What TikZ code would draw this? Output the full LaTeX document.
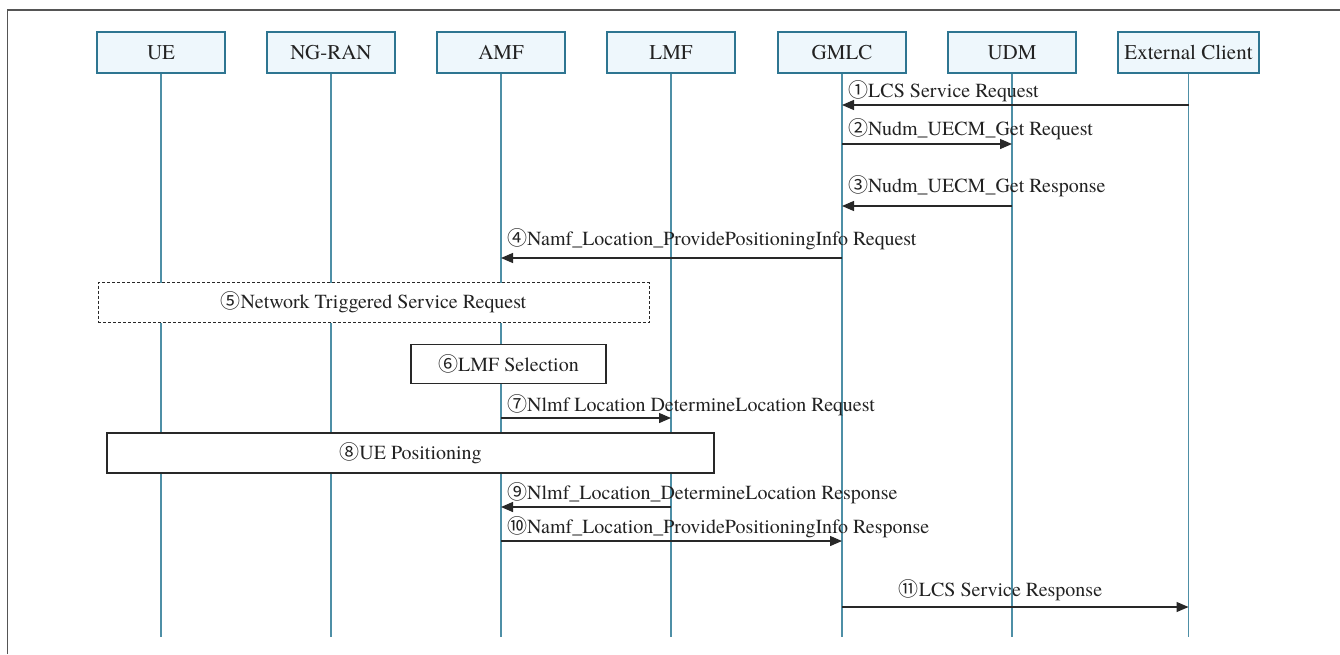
\documentclass[tikz,border=0pt]{standalone}
\usepackage{fontspec}
\setmainfont{texgyretermes-regular.otf}
\newfontfamily\cjk{Noto Sans CJK SC}
\newcommand\cn[1]{{\cjk #1}}
\usetikzlibrary{arrows.meta}
\definecolor{hdrfill}{RGB}{238,247,252}
\definecolor{hdrline}{RGB}{46,117,145}
\definecolor{lifecol}{RGB}{78,143,166}
\definecolor{msgcol}{RGB}{40,40,40}
\definecolor{txt}{RGB}{34,34,34}
\definecolor{framecol}{RGB}{85,85,85}
\tikzset{
  hdr/.style={draw=hdrline, fill=hdrfill, line width=1.1pt, minimum width=128pt,
    minimum height=41pt, inner sep=0pt, text=txt, font=\fontsize{21}{25}\selectfont},
  life/.style={draw=lifecol, line width=1.1pt},
  msg/.style={draw=msgcol, line width=1.3pt, -{Triangle[length=12pt,width=10pt]}},
  lbl/.style={anchor=base west, xshift=6pt, inner sep=0pt, text=txt,
    font=\fontsize{20}{24}\selectfont},
  procbox/.style={draw=msgcol, fill=white, line width=1.1pt, inner sep=0pt, text=txt,
    font=\fontsize{20}{24}\selectfont},
  optbox/.style={procbox, dash pattern=on 3pt off 2pt, line width=1pt}
}
\begin{document}
\begin{tikzpicture}[x=1pt,y=-1pt]
\useasboundingbox (0,0) rectangle (1340,654);
\fill[white] (0,0) rectangle (1340,654);
% frame
\draw[framecol, line width=1.6pt] (7.5,654) -- (7.5,10) -- (1340,10);

% participants
\node[hdr] (ue)    at (161,52.5)  {UE};
\node[hdr] (ngran) at (331,52.5)  {NG-RAN};
\node[hdr] (amf)   at (501,52.5)  {AMF};
\node[hdr] (lmf)   at (671,52.5)  {LMF};
\node[hdr] (gmlc)  at (842,52.5)  {GMLC};
\node[hdr] (udm)   at (1012,52.5) {UDM};
\node[hdr, minimum width=141pt] (ext) at (1188.5,52.5) {External Client};

% lifelines
\coordinate (bot) at (0,637);
\foreach \p in {ue,ngran,amf,lmf,gmlc,udm,ext}
  \draw[life] (\p.south) -- (\p.south |- bot);

% 1-4
\draw[msg] (ext |- 0,105) -- (gmlc |- 0,105);
\node[lbl] (l1) at (gmlc |- 0,97) {\cn{①}LCS Service Request};
\draw[msg] (gmlc |- 0,144) -- (udm |- 0,144);
\node[lbl] (l2) at (gmlc |- 0,135) {\cn{②}Nudm\_UECM\_Get Request};
\draw[msg] (udm |- 0,206) -- (gmlc |- 0,206);
\node[lbl] (l3) at (gmlc |- 0,192) {\cn{③}Nudm\_UECM\_Get Response};
\draw[msg] (gmlc |- 0,258) -- (amf |- 0,258);
\node[lbl] (l4) at (amf |- 0,245) {\cn{④}Namf\_Location\_ProvidePositioningInfo Request};

% 5 network triggered service request
\node[optbox, minimum width=551pt, minimum height=40pt] (s5) at (373.5,302.5)
  {\cn{⑤}Network Triggered Service Request};

% 6 LMF selection
\node[procbox, minimum width=195pt, minimum height=39pt] (s6) at (508.5,364)
  {\cn{⑥}LMF Selection};

% 7
\draw[msg] (amf |- 0,418) -- (lmf |- 0,418);
\node[lbl] (l7) at (amf |- 0,411) {\cn{⑦}Nlmf Location DetermineLocation Request};

% 8 UE positioning
\node[procbox, minimum width=607pt, minimum height=40pt] (s8) at (410.5,453)
  {\cn{⑧}UE Positioning};

% 9-11
\draw[msg] (lmf |- 0,507) -- (amf |- 0,507);
\node[lbl] (l9) at (amf |- 0,499) {\cn{⑨}Nlmf\_Location\_DetermineLocation Response};
\draw[msg] (amf |- 0,541) -- (gmlc |- 0,541);
\node[lbl] (l10) at (amf |- 0,533) {\cn{⑩}Namf\_Location\_ProvidePositioningInfo Response};
\draw[msg] (gmlc |- 0,607) -- (ext |- 0,607);
\node[lbl, anchor=base, xshift=0pt] (l11) at (994.5,596) {\cn{⑪}LCS Service Response};
\end{tikzpicture}
\end{document}
